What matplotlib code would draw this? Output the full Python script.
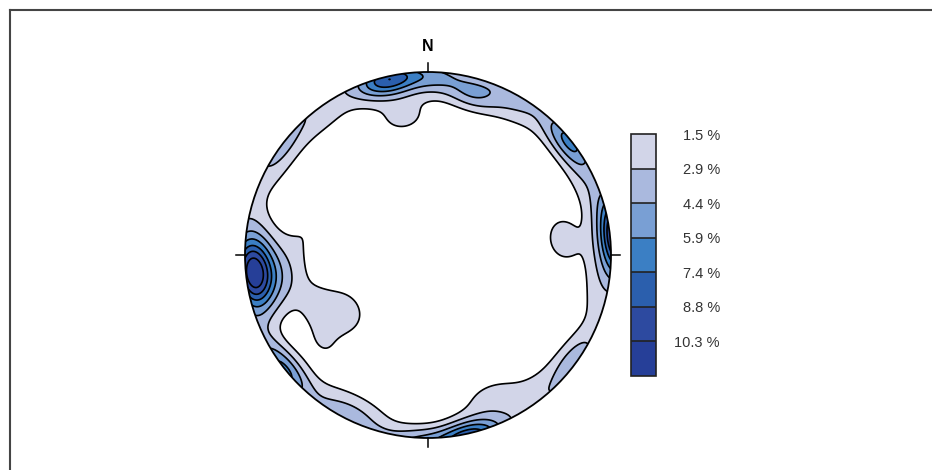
import numpy as np
import matplotlib
matplotlib.use("Agg")
import matplotlib.pyplot as plt
from matplotlib.patches import Circle
from matplotlib.lines import Line2D

plt.rcParams['font.family'] = ['Liberation Sans', 'DejaVu Sans']

# pole concentrations: trend, plunge (deg), peak weight (%), spread (deg)
trend = [347, 2, 15, 350, 30, 51, 65, 83, 100, 126, 140, 157, 205, 230, 236, 246, 262, 264, 283, 300, 325]
plunge = [2, 3, 10, 24, 4, 1, 4, 27, 4, 2, 3, 16, 3, 26, 44, 34, 22, 5, 34, 3, 3]
weight = [8.0, 4.0, 3.0, 1.8, 1.8, 5.6, 2.0, 1.9, 1.6, 2.1, 1.3, 1.7, 2.4, 1.4, 2.2, 1.3, 2.4, 11.0, 1.2, 1.3, 1.3]
spread = [10, 10, 9, 12, 15, 10, 12, 12, 15, 9, 15, 12, 14, 11, 11, 9, 13, 12, 12, 15, 15]

levels = [1.5, 2.9, 4.4, 5.9, 7.4, 8.8, 10.3, 11.8]
level_labels = ['1.5 %', '2.9 %', '4.4 %', '5.9 %', '7.4 %', '8.8 %', '10.3 %']
colors = ['#d2d5e8', '#aab9de', '#799fd4', '#3b7fc4', '#2b5fad', '#2d4aa0', '#263f98']

# equal-area lower hemisphere grid
g = np.linspace(-1.03, 1.03, 500)
X, Y = np.meshgrid(g, g)
R = np.clip(np.hypot(X, Y), 0, np.sqrt(2))
theta = 2 * np.arcsin(R / np.sqrt(2))
phi = np.arctan2(X, Y)
vx, vy, vz = np.sin(theta) * np.sin(phi), np.sin(theta) * np.cos(phi), -np.cos(theta)

Z = np.zeros_like(X)
for t, p, w, s in zip(trend, plunge, weight, spread):
    t, p, s = np.radians(t), np.radians(p), np.radians(s)
    px, py, pz = np.cos(p) * np.sin(t), np.cos(p) * np.cos(t), -np.sin(p)
    d = np.abs(vx * px + vy * py + vz * pz)
    Z += w * np.exp((d - 1) / (1 - np.cos(s)))
Z = np.minimum(Z, 11.7)

fig = plt.figure(figsize=(9.32, 4.70), dpi=100)
W, H = 932, 470
cx, cy, rad = 428, 255, 183
half = 1.1 * rad
ax = fig.add_axes([(cx - half) / W, (H - cy - half) / H, 2 * half / W, 2 * half / H])
ax.set_xlim(-1.1, 1.1)
ax.set_ylim(-1.1, 1.1)
ax.set_aspect('equal')
ax.axis('off')

clip = Circle((0, 0), 1, transform=ax.transData)
cf = ax.contourf(X, Y, Z, levels=levels, colors=colors)
cl = ax.contour(X, Y, Z, levels=levels[:-1], colors='black', linewidths=1.2)
cf.set_clip_path(clip)
cl.set_clip_path(clip)
ax.add_patch(Circle((0, 0), 1, fill=False, ec='black', lw=1.3, zorder=5))

tk = 0.05
for x0, y0, x1, y1 in [(0, 1, 0, 1 + tk), (0, -1, 0, -1 - tk), (1, 0, 1 + tk, 0), (-1, 0, -1 - tk, 0)]:
    ax.plot([x0, x1], [y0, y1], color='black', lw=1.1, clip_on=False)
ax.text(0, 1.10, 'N', ha='center', va='bottom', fontsize=11.5, fontweight='bold')

# colour key
cax = fig.add_axes([631 / W, (H - 376) / H, 25 / W, 242 / H])
cb = fig.colorbar(cf, cax=cax)
cax.invert_yaxis()
cb.set_ticks(levels[:-1])
cb.set_ticklabels(level_labels)
cax.tick_params(length=0, labelsize=10.5, pad=46, labelcolor='#333333')
for lab in cax.get_yticklabels():
    lab.set_horizontalalignment('right')
for lv in levels[1:-1]:
    cax.axhline(lv, color='#222222', lw=1.2)
cb.outline.set_linewidth(1.2)
cb.outline.set_edgecolor('#222222')

# frame
fig.add_artist(Line2D([9.5 / W, 9.5 / W], [0, 1 - 10 / H], color='#444444', lw=1.5))
fig.add_artist(Line2D([9.5 / W, 1], [1 - 10 / H, 1 - 10 / H], color='#444444', lw=1.5))

fig.savefig('out.png', dpi=100)
